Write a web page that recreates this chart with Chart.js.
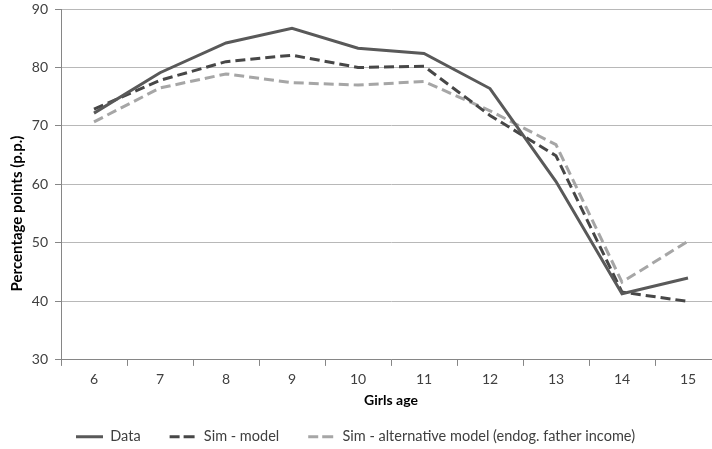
<!DOCTYPE html>
<html>
<head>
<meta charset="utf-8">
<script src="https://cdn.jsdelivr.net/npm/chart.js@4"></script>
<style>
  html, body { margin: 0; padding: 0; background: #fff; overflow: hidden; }
  #wrap { width: 722px; height: 449px; }
</style>
</head>
<body>
<div id="wrap"><canvas id="ageChart"></canvas></div>
<script>
// Girls age categories
const ages = ['6', '7', '8', '9', '10', '11', '12', '13', '14', '15'];
// Series values (p.p.)
const dataValues = [72.2, 79.1, 84.2, 86.7, 83.3, 82.4, 76.4, 60.5, 41.3, 44.0];
const simModel = [72.9, 77.8, 81.0, 82.1, 80.0, 80.2, 71.8, 64.9, 41.6, 40.0];
const simAltModel = [70.7, 76.5, 78.9, 77.4, 77.0, 77.6, 72.6, 66.8, 43.3, 50.3];
// y axis ticks
const yMin = 30, yMax = 90, yStep = 10;

const axisGray = '#868686';
const tickFont = { family: 'Lato', size: 14 };

// legende un peu a gauche, titre de l'axe y un peu plus bas (comme dans Excel)
const tweaks = {
    id: 'tweaks',
    afterLayout(chart) {
        const lg = chart.legend;
        lg.left -= 5;
        lg.right -= 5;
        lg.adjustHitBoxes();

        const y = chart.scales.y;
        const drawTitle = y.drawTitle;
        y.drawTitle = function () {
            const top = this.top;
            this.top += 58;
            drawTitle.call(this);
            this.top = top;
        };
    }
};

const ctx = document.getElementById('ageChart').getContext('2d');
const ageChart = new Chart(ctx, {
    type: 'line',
    data: {
        labels: ages,
        datasets: [{
            label: 'Data',
            data: dataValues,
            borderColor: '#595959',
            backgroundColor: '#595959',
            borderWidth: 3
        }, {
            label: 'Sim - model',
            data: simModel,
            borderColor: '#474747',
            backgroundColor: '#474747',
            borderWidth: 3,
            borderDash: [10, 5]
        }, {
            label: 'Sim - alternative model (endog. father income)',
            data: simAltModel,
            borderColor: '#a6a6a6',
            backgroundColor: '#a6a6a6',
            borderWidth: 3,
            borderDash: [10, 5]
        }]
    },
    options: {
        responsive: true,
        maintainAspectRatio: false,
        animation: false,
        elements: {
            point: { radius: 0, hoverRadius: 0 },
            line: { tension: 0, borderCapStyle: 'butt' }
        },
        layout: { padding: { top: 0, right: 1, left: 0, bottom: -5 } },
        scales: {
            x: {
                offset: true,
                grid: {
                    offset: true,
                    drawOnChartArea: false,
                    drawTicks: true,
                    tickLength: 6,
                    color: axisGray
                },
                border: { color: axisGray },
                ticks: { color: '#404040', font: tickFont, padding: 5, maxRotation: 0 },
                title: {
                    display: true,
                    text: 'Girls age',
                    color: '#000',
                    font: { family: 'Lato', size: 14, weight: 'bold' },
                    padding: { top: -1, bottom: -8 }
                }
            },
            y: {
                min: yMin,
                max: yMax,
                ticks: { stepSize: yStep, color: '#404040', font: tickFont, padding: 7 },
                grid: { color: '#b8b8b8', tickColor: axisGray, tickLength: 6 },
                border: { color: axisGray },
                title: {
                    display: true,
                    text: 'Percentage points (p.p.)',
                    color: '#000',
                    font: { family: 'Lato', size: 15, weight: 'bold' },
                    padding: { top: 8, bottom: 0 }
                },
                afterFit(scale) {
                    scale.width = 61;
                    scale.paddingTop = 9;
                    scale.paddingBottom = 0;
                }
            }
        },
        plugins: {
            legend: {
                position: 'bottom',
                labels: {
                    boxWidth: 27,
                    boxHeight: 0,
                    padding: 29,
                    color: '#404040',
                    font: { family: 'Lato', size: 14.5 }
                }
            },
            tooltip: { enabled: false }
        }
    },
    plugins: [tweaks]
});
</script>
</body>
</html>
